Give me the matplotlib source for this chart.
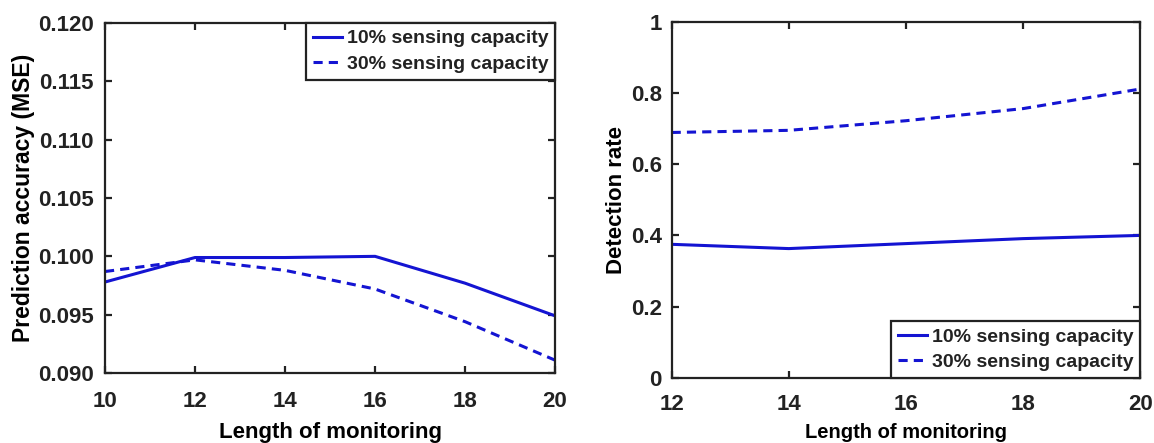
import matplotlib.pyplot as plt

plt.rcParams['font.family'] = ['Liberation Sans', 'DejaVu Sans']
plt.rcParams['font.weight'] = 'bold'
plt.rcParams['text.color'] = '#222222'

# prediction accuracy vs length of monitoring
len_mse = [10, 12, 14, 16, 18, 20]
mse_10 = [0.0978, 0.0999, 0.0999, 0.1000, 0.0977, 0.0949]
mse_30 = [0.0987, 0.0997, 0.0988, 0.0972, 0.0944, 0.0911]

# detection rate vs length of monitoring
len_det = [12, 14, 16, 18, 20]
det_10 = [0.375, 0.363, 0.377, 0.391, 0.400]
det_30 = [0.689, 0.695, 0.722, 0.756, 0.811]

labels = ['10% sensing capacity', '30% sensing capacity']
blue = '#1414d2'
dash = (0, (3, 2))

fig = plt.figure(figsize=(11.54, 4.43), dpi=100)
ax1 = fig.add_axes([0.091, 0.158, 0.390, 0.790])
ax2 = fig.add_axes([0.582, 0.147, 0.406, 0.804])


def style(ax, xpad, ypad):
    for s in ax.spines.values():
        s.set_linewidth(1.6)
        s.set_color('#222222')
    ax.tick_params(direction='in', top=True, right=True, width=1.6, length=5,
                   labelsize=16, colors='#222222')
    ax.tick_params(axis='x', pad=xpad)
    ax.tick_params(axis='y', pad=ypad)
    for lab in ax.get_xticklabels() + ax.get_yticklabels():
        lab.set_fontweight('bold')


def add_legend(ax, loc):
    leg = ax.legend(loc=loc, fontsize=14, handlelength=1.5, handletextpad=0.25,
                    borderpad=0.35, labelspacing=0.4, fancybox=False, framealpha=1,
                    edgecolor='#222222', borderaxespad=0)
    leg.get_frame().set_linewidth(1.6)


ax1.plot(len_mse, mse_10, color=blue, lw=2.2, label=labels[0])
ax1.plot(len_mse, mse_30, color=blue, lw=2.2, linestyle=dash, label=labels[1])
ax1.set_xlim(10, 20)
ax1.set_ylim(0.090, 0.120)
ax1.set_xticks([10, 12, 14, 16, 18, 20])
ax1.set_yticks([0.090, 0.095, 0.100, 0.105, 0.110, 0.115, 0.120])
ax1.set_yticklabels(['%.3f' % v for v in ax1.get_yticks()])
ax1.set_xlabel('Length of monitoring', fontsize=16, fontweight='bold', labelpad=7)
ax1.set_ylabel('Prediction accuracy (MSE)', fontsize=16.5, fontweight='bold', labelpad=2)
style(ax1, 13, 8)
add_legend(ax1, 'upper right')

ax2.plot(len_det, det_10, color=blue, lw=2.2, label=labels[0])
ax2.plot(len_det, det_30, color=blue, lw=2.2, linestyle=dash, label=labels[1])
ax2.set_xlim(12, 20)
ax2.set_ylim(0, 1)
ax2.set_xticks([12, 14, 16, 18, 20])
ax2.set_yticks([0, 0.2, 0.4, 0.6, 0.8, 1])
ax2.set_yticklabels(['0', '0.2', '0.4', '0.6', '0.8', '1'])
ax2.set_xlabel('Length of monitoring', fontsize=14.5, fontweight='bold', labelpad=6)
ax2.set_ylabel('Detection rate', fontsize=16, fontweight='bold', labelpad=3)
style(ax2, 11.5, 7)
add_legend(ax2, 'lower right')

fig.savefig('out.png', dpi=100)
